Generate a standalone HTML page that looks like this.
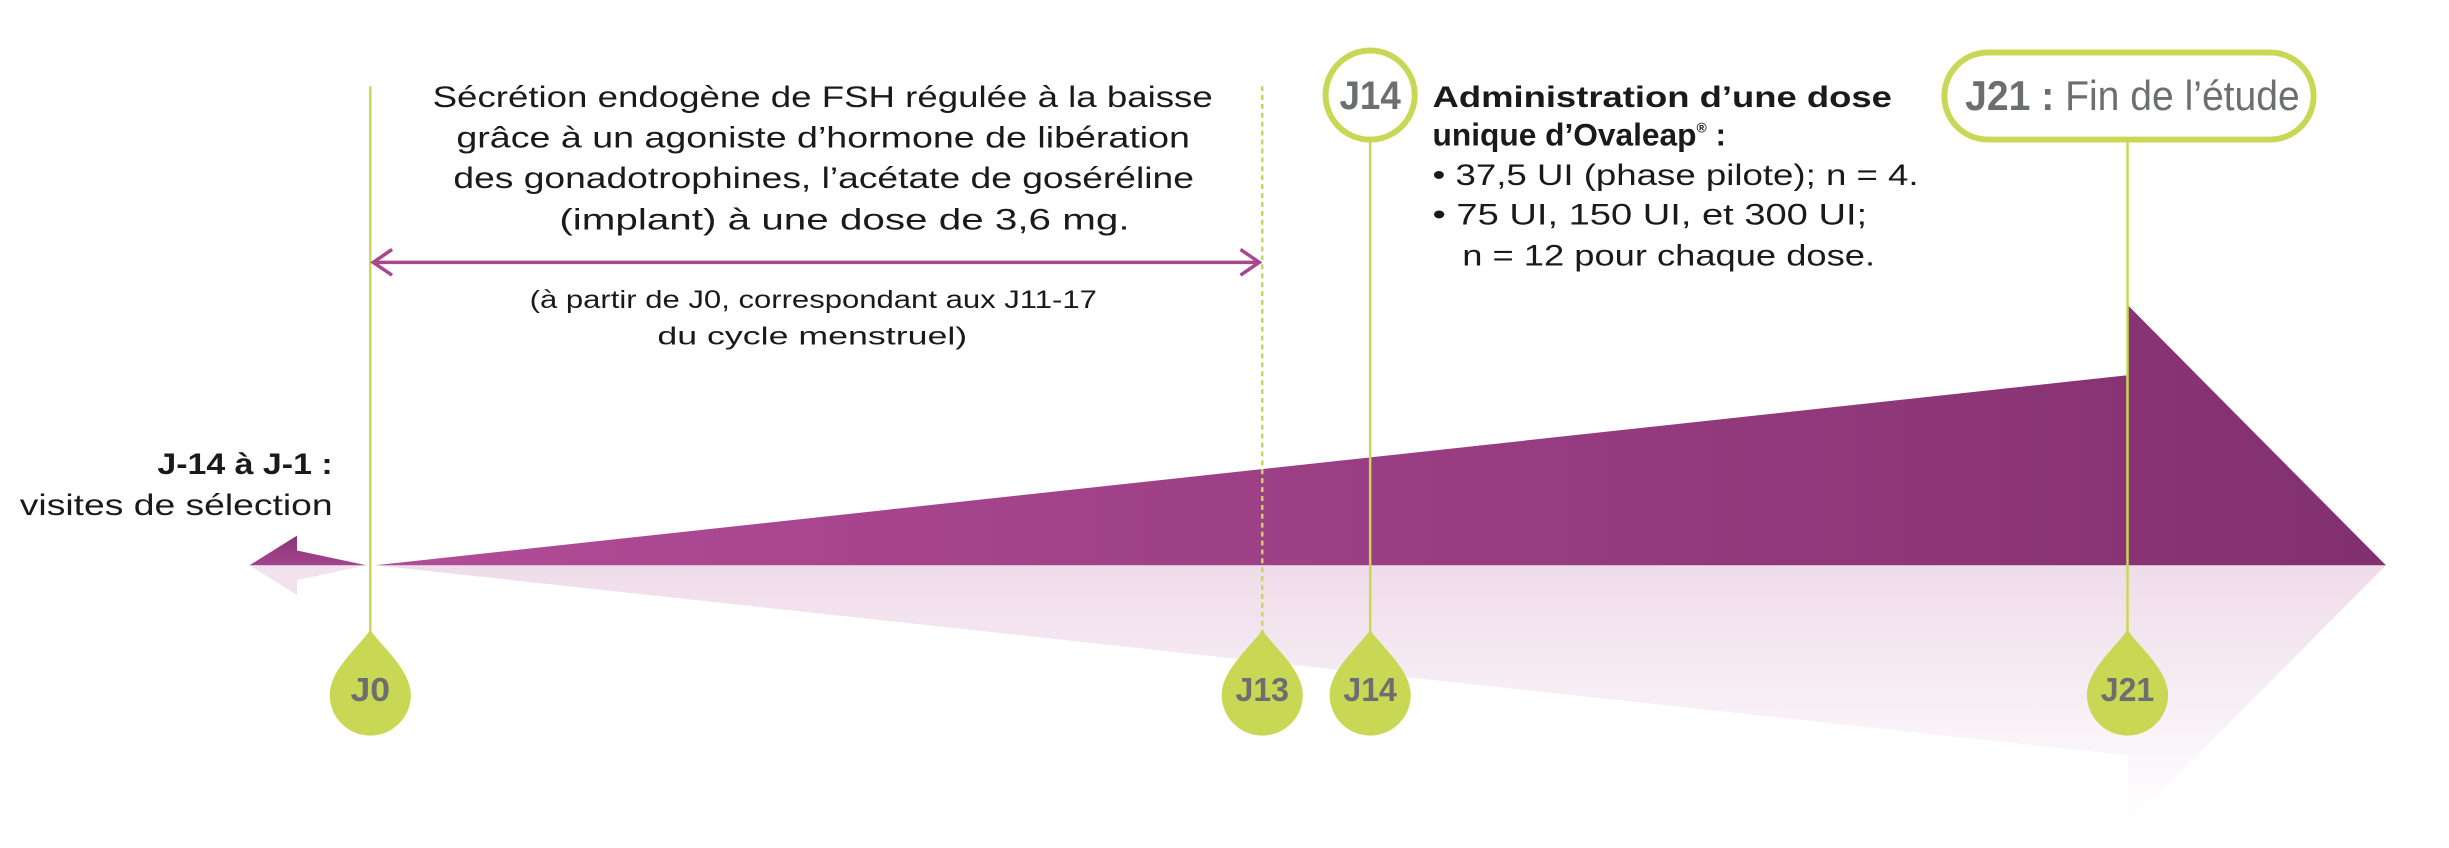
<!DOCTYPE html>
<html><head><meta charset="utf-8"><style>html,body{margin:0;padding:0;background:#fff}svg{display:block}</style></head>
<body>
<svg width="2449" height="848" viewBox="0 0 2449 848" xmlns="http://www.w3.org/2000/svg" font-family="Liberation Sans, sans-serif">
<defs>
<linearGradient id="pg" x1="379" y1="0" x2="2410" y2="0" gradientUnits="userSpaceOnUse">
<stop offset="0" stop-color="#b24c98"/><stop offset="1" stop-color="#82306f"/></linearGradient>
<linearGradient id="rg" x1="0" y1="571" x2="0" y2="834" gradientUnits="userSpaceOnUse">
<stop offset="0" stop-color="#efdcea"/><stop offset="1" stop-color="#ffffff"/></linearGradient>
<linearGradient id="lg" x1="0" y1="541" x2="0" y2="571" gradientUnits="userSpaceOnUse">
<stop offset="0" stop-color="#8a3479"/><stop offset="1" stop-color="#a3448d"/></linearGradient>
</defs>
<g transform="scale(0.99)">
<polygon points="379,571 2410,571 2149,834 2149,763" fill="url(#rg)"/>
<polygon points="252,571 370,571 300,586 300,601" fill="#f1e2ee"/>
<polygon points="379,571 2149,379 2149,308 2410,571" fill="url(#pg)"/>
<polygon points="252,571 300,541 300,556 370,571" fill="url(#lg)"/>
<g stroke="#c8d855" stroke-width="2.5" fill="none">
<line x1="374" y1="87" x2="374" y2="640"/>
<line x1="1275" y1="87" x2="1275" y2="640" stroke-dasharray="5,4"/>
<line x1="1384" y1="142" x2="1384" y2="640"/>
<line x1="2149" y1="142" x2="2149" y2="640"/>
</g>
<g stroke="#a9468f" stroke-width="3.5" fill="none">
<line x1="378" y1="265" x2="1271" y2="265"/>
<polyline points="396,252 377,265 396,278"/>
<polyline points="1253,252 1272,265 1253,278"/>
</g>
<g fill="#c8d855">
<path d="M374,636 C384,652 415,676 415,702 A41,41 0 0 1 333,702 C333,676 364,652 374,636Z"/>
<path d="M1275,636 C1285,652 1316,676 1316,702 A41,41 0 0 1 1234,702 C1234,676 1265,652 1275,636Z"/>
<path d="M1384,636 C1394,652 1425,676 1425,702 A41,41 0 0 1 1343,702 C1343,676 1374,652 1384,636Z"/>
<path d="M2149,636 C2159,652 2190,676 2190,702 A41,41 0 0 1 2108,702 C2108,676 2139,652 2149,636Z"/>
</g>
<g fill="#6d6e70" font-weight="bold" font-size="34" text-anchor="middle">
<text x="374" y="708" textLength="40" lengthAdjust="spacingAndGlyphs">J0</text>
<text x="1275" y="708" textLength="54" lengthAdjust="spacingAndGlyphs">J13</text>
<text x="1384" y="708" textLength="54" lengthAdjust="spacingAndGlyphs">J14</text>
<text x="2149" y="708" textLength="54" lengthAdjust="spacingAndGlyphs">J21</text>
</g>
<ellipse cx="1384" cy="96" rx="45" ry="45" fill="#fff" stroke="#c8d855" stroke-width="6"/>
<text x="1384" y="110" fill="#6d6e70" font-weight="bold" font-size="40" text-anchor="middle" textLength="62" lengthAdjust="spacingAndGlyphs">J14</text>
<rect x="1964" y="53" width="373" height="88" rx="44" fill="#fff" stroke="#c8d855" stroke-width="6"/>
<text x="1985" y="111" fill="#6d6e70" font-size="42" textLength="338" lengthAdjust="spacingAndGlyphs"><tspan font-weight="bold">J21 :</tspan> Fin de l’étude</text>
<g fill="#1a1a1a" font-size="30">
<text x="437" y="108" textLength="788" lengthAdjust="spacingAndGlyphs">Sécrétion endogène de FSH régulée à la baisse</text>
<text x="461" y="149" textLength="741" lengthAdjust="spacingAndGlyphs">grâce à un agoniste d’hormone de libération</text>
<text x="458" y="190" textLength="748" lengthAdjust="spacingAndGlyphs">des gonadotrophines, l’acétate de goséréline</text>
<text x="565" y="232" textLength="576" lengthAdjust="spacingAndGlyphs">(implant) à une dose de 3,6 mg.</text>
</g>
<g fill="#1a1a1a" font-size="25">
<text x="535" y="311" textLength="573" lengthAdjust="spacingAndGlyphs">(à partir de J0, correspondant aux J11-17</text>
<text x="664" y="348" textLength="313" lengthAdjust="spacingAndGlyphs">du cycle menstruel)</text>
</g>
<g fill="#1a1a1a" font-size="30">
<text x="159" y="479" font-weight="bold" textLength="177" lengthAdjust="spacingAndGlyphs">J-14 à J-1 :</text>
<text x="20" y="520" textLength="316" lengthAdjust="spacingAndGlyphs">visites de sélection</text>
<text x="1447" y="108" font-weight="bold" textLength="464" lengthAdjust="spacingAndGlyphs">Administration d’une dose</text>
<text x="1447" y="147" font-weight="bold" font-size="32">unique d’Ovaleap<tspan font-size="14" dy="-13">®</tspan><tspan dy="13"> :</tspan></text>
<text x="1447" y="187" textLength="491" lengthAdjust="spacingAndGlyphs">• 37,5 UI (phase pilote); n = 4.</text>
<text x="1447" y="227" textLength="439" lengthAdjust="spacingAndGlyphs">• 75 UI, 150 UI, et 300 UI;</text>
<text x="1477" y="268" textLength="417" lengthAdjust="spacingAndGlyphs">n = 12 pour chaque dose.</text>
</g>
</g>
</svg>
</body></html>
